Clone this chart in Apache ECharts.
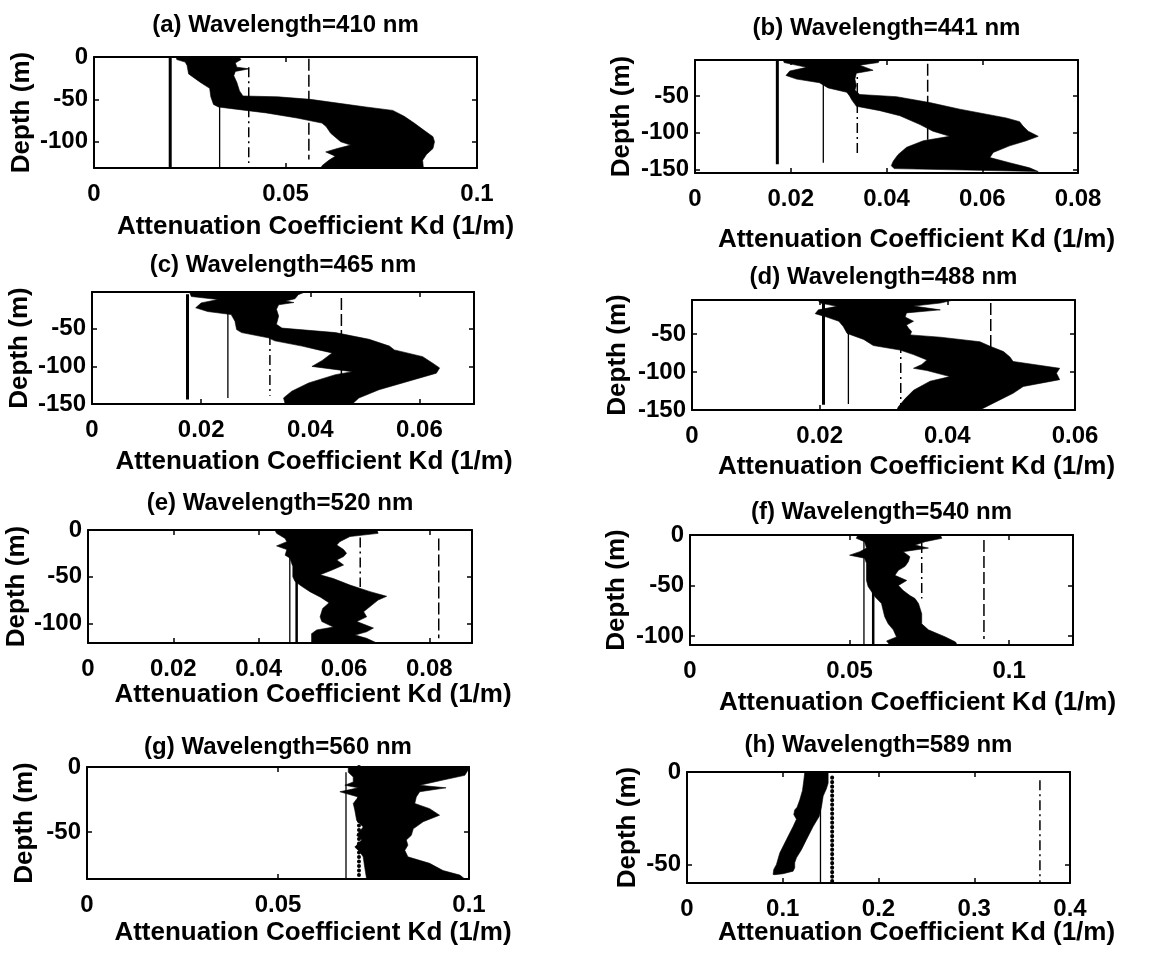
<!DOCTYPE html>
<html><head><meta charset="utf-8">
<script src="https://cdn.jsdelivr.net/npm/echarts@6/dist/echarts.min.js"></script>
<style>html,body{margin:0;padding:0;background:#fff}#c{width:1163px;height:957px}</style>
</head><body><div id="c"></div>
<script>
// ---------- data ----------
const panelLetters = ['a','b','c','d','e','f','g','h'];
const wavelengths = [410, 441, 465, 488, 520, 540, 560, 589];
const xMaxes = [0.1, 0.08, 0.07, 0.06, 0.09, 0.12, 0.1, 0.4];
const depthMins = [-131, -155, -150, -150, -121, -109, -86, -60];
const depthMaxes = [0, -1, -1, -5, 0, 0, 0, 0];
const xTickValues = [
  [0, 0.05, 0.1], [0, 0.02, 0.04, 0.06, 0.08], [0, 0.02, 0.04, 0.06], [0, 0.02, 0.04, 0.06],
  [0, 0.02, 0.04, 0.06, 0.08], [0, 0.05, 0.1], [0, 0.05, 0.1], [0, 0.1, 0.2, 0.3, 0.4]
];
const yTickValues = [
  [0, -50, -100], [-50, -100, -150], [-50, -100, -150], [-50, -100, -150],
  [0, -50, -100], [0, -50, -100], [0, -50], [0, -50]
];

// envelope edges: [depth (m), Kd (1/m)]
const minEdgeA = [[0,0.0215],[-3,0.0216],[-6,0.0238],[-10,0.0243],[-20,0.0247],[-30,0.0278],[-37,0.0302],[-47,0.0305],[-56,0.0312],[-59,0.0325],[-61,0.036],[-66,0.045],[-72,0.053],[-78,0.0595],[-82,0.0606],[-90,0.0618],[-100,0.0644],[-104,0.067],[-108,0.0635],[-112,0.0605],[-117,0.063],[-122,0.0613],[-128,0.0596],[-131,0.0592]];
const maxEdgeA = [[0,0.0378],[-3,0.0384],[-7,0.0369],[-12,0.0373],[-14,0.0405],[-17,0.0369],[-22,0.0365],[-30,0.0373],[-40,0.038],[-46,0.0389],[-47,0.048],[-50,0.0565],[-59,0.071],[-63,0.078],[-70,0.081],[-78,0.0836],[-86,0.086],[-94,0.0885],[-100,0.0889],[-108,0.0885],[-115,0.0868],[-122,0.0858],[-131,0.086]];

const minEdgeB = [[0,0.0184],[-4.5,0.0186],[-11,0.0233],[-16,0.0198],[-22,0.019],[-27,0.0212],[-32,0.026],[-39,0.0278],[-45,0.0317],[-50,0.0323],[-55,0.0327],[-64,0.0337],[-70,0.0386],[-77,0.0428],[-89,0.047],[-98,0.0497],[-105,0.0532],[-111,0.0477],[-120,0.0442],[-130,0.0424],[-139,0.0414],[-145,0.041],[-149,0.0416]];
const maxEdgeB = [[0,0.0386],[-4.5,0.0383],[-8,0.0344],[-15,0.0372],[-19,0.0337],[-27,0.0334],[-36,0.0337],[-42,0.0334],[-48,0.0344],[-51,0.0421],[-59,0.049],[-68,0.0553],[-80,0.065],[-85,0.0678],[-91,0.0685],[-98,0.0696],[-105,0.0717],[-111,0.0692],[-118,0.0657],[-127,0.0623],[-134,0.0616],[-141,0.0657],[-148,0.0699],[-153,0.0717]];

const minEdgeC = [[0,0.0178],[-7,0.0182],[-11,0.0231],[-15.5,0.02],[-22,0.019],[-27,0.0212],[-31,0.0255],[-40,0.0262],[-51,0.0265],[-55,0.0274],[-62,0.0323],[-66,0.0335],[-73,0.0385],[-78,0.0415],[-82,0.044],[-92,0.0422],[-100,0.0403],[-107,0.0477],[-111,0.0446],[-122,0.0397],[-133,0.0366],[-142,0.0351],[-150,0.0354]];
const maxEdgeC = [[0,0.0394],[-4.5,0.0378],[-10,0.0372],[-13,0.0355],[-15,0.037],[-18,0.0342],[-24,0.0338],[-33,0.0342],[-44,0.0338],[-49,0.0348],[-55,0.0446],[-64,0.0508],[-73,0.0545],[-78,0.0554],[-87,0.0606],[-96,0.0625],[-102,0.0637],[-109,0.0631],[-118,0.0588],[-131,0.0526],[-142,0.0489],[-150,0.0477]];

const minEdgeD = [[-4,0.0196],[-9,0.0201],[-13.4,0.0227],[-18,0.0198],[-23,0.0193],[-27.5,0.0211],[-33,0.023],[-40,0.0237],[-49,0.0243],[-57,0.0269],[-65,0.0284],[-71,0.0326],[-77,0.0347],[-84,0.0368],[-90,0.036],[-95,0.0347],[-98,0.0368],[-106,0.0404],[-112,0.0373],[-124,0.0347],[-135,0.0334],[-146,0.0323],[-150,0.0321]];
const maxEdgeD = [[-4,0.0415],[-9,0.0389],[-13,0.0347],[-18,0.0389],[-22,0.0336],[-27.5,0.0334],[-33,0.0347],[-38,0.0336],[-42,0.0339],[-46.5,0.0344],[-51,0.0342],[-54,0.0389],[-60,0.0451],[-66,0.0467],[-73,0.0488],[-80,0.0498],[-86,0.0503],[-95,0.0576],[-101.5,0.0571],[-110,0.0576],[-119,0.0519],[-128,0.0503],[-141,0.0472],[-150,0.0451]];

const minEdgeE = [[0,0.0438],[-3.6,0.0442],[-9,0.0462],[-12.5,0.0466],[-17,0.0442],[-21,0.0466],[-27,0.0462],[-30,0.0473],[-39,0.048],[-50,0.048],[-55,0.0485],[-60,0.05],[-66,0.052],[-72,0.0545],[-78,0.0565],[-84,0.055],[-93,0.0544],[-98,0.0548],[-104,0.0575],[-107,0.0536],[-111,0.0524],[-116,0.0524],[-121,0.0524]];
const maxEdgeE = [[0,0.0677],[-3.6,0.068],[-7,0.0614],[-12.5,0.059],[-16,0.0583],[-21,0.0599],[-25,0.0606],[-28.5,0.0599],[-32,0.0583],[-37.5,0.0599],[-43,0.0571],[-48,0.0544],[-52,0.0575],[-59,0.0614],[-66,0.0661],[-71,0.07],[-75,0.068],[-82,0.0661],[-87.5,0.0646],[-93,0.0653],[-98,0.063],[-105,0.0669],[-109,0.0653],[-112.5,0.0626],[-116,0.0653],[-121,0.0677]];

const minEdgeF = [[0,0.0526],[-3.3,0.0521],[-6.6,0.0547],[-13,0.0553],[-16.5,0.0532],[-20,0.05],[-23,0.0547],[-28,0.0553],[-38,0.0553],[-45,0.0553],[-51,0.0558],[-61,0.0579],[-68,0.06],[-74.5,0.0605],[-81,0.061],[-88,0.0621],[-94,0.0637],[-101,0.0647],[-105,0.0616],[-109,0.0626]];
const maxEdgeF = [[0,0.0784],[-3.3,0.0789],[-6.6,0.0737],[-10,0.0705],[-13,0.0747],[-16.5,0.0668],[-21.5,0.0689],[-26.5,0.0684],[-31,0.0674],[-35,0.0653],[-40,0.0642],[-45,0.0679],[-50,0.0653],[-55,0.0668],[-60,0.0689],[-63,0.0705],[-68,0.0716],[-78,0.0726],[-88,0.0726],[-94,0.0747],[-101,0.08],[-106,0.0832],[-109,0.0837]];

const minEdgeG = [[0,0.0684],[-4,0.0684],[-7.7,0.0697],[-11.5,0.0697],[-14,0.0675],[-16,0.071],[-19,0.0662],[-23,0.071],[-28,0.0697],[-33,0.0701],[-41,0.0706],[-46,0.0723],[-52.5,0.0706],[-56,0.0719],[-61.5,0.0701],[-65,0.0714],[-69,0.0723],[-77,0.0727],[-86,0.0732]];
const maxEdgeG = [[0,0.1],[-2.6,0.0997],[-6.4,0.0989],[-10,0.0932],[-14,0.0871],[-16,0.094],[-19,0.0871],[-23,0.0862],[-28,0.0858],[-32,0.0897],[-37,0.0923],[-42,0.088],[-47.5,0.0854],[-52.5,0.0849],[-56,0.0836],[-60,0.084],[-64,0.0832],[-69,0.084],[-74,0.0897],[-79.5,0.0932],[-83,0.0976],[-86,0.0989]];

const minEdgeH = [[0,0.123],[-4.5,0.122],[-10,0.1206],[-15,0.1178],[-19,0.115],[-20.5,0.1125],[-23,0.1115],[-25.5,0.1143],[-29.5,0.1108],[-36.6,0.1038],[-43.75,0.0969],[-50,0.0934],[-52.7,0.0906],[-55.4,0.0899]];
const maxEdgeH = [[0,0.1474],[-6,0.1474],[-9,0.1456],[-13,0.1422],[-19,0.1404],[-24,0.138],[-29.5,0.1317],[-36.6,0.1247],[-42,0.1195],[-46.4,0.1143],[-49,0.1125],[-51.8,0.1125],[-53.6,0.1108],[-55,0.1003],[-55.5,0.0916]];

// reference Kd lines per panel: value, top depth, bottom depth, kind
const refKdA = [0.0199, 0.0328, 0.0404, 0.0561];
const refTopA = [0, 0, -12, -2];
const refBotA = [-131, -131, -125, -121];
const refKindA = ['thick', 'thin', 'dashdot', 'dashed'];

const refKdB = [0.0172, 0.0268, 0.0339, 0.0486];
const refTopB = [-1, -1, -5, -6];
const refBotB = [-143, -141, -131, -130];
const refKindB = ['thick', 'thin', 'dashdot', 'dashed'];

const refKdC = [0.0175, 0.0249, 0.0326, 0.0457];
const refTopC = [-4, -4, -5, -9];
const refBotC = [-144, -142, -139, -140];
const refKindC = ['thick', 'thin', 'dashdot', 'dashed'];

const refKdD = [0.0206, 0.0245, 0.0327, 0.0468];
const refTopD = [-9, -9, -9, -9];
const refBotD = [-143, -142, -146, -140];
const refKindD = ['thick', 'thin', 'dashdot', 'dashed'];

const refKdE = [0.0473, 0.0489, 0.0638, 0.0822];
const refTopE = [0, 0, -8, -9];
const refBotE = [-121, -121, -61, -116];
const refKindE = ['thin', 'thick2', 'dashdot', 'dashed'];

const refKdF = [0.0545, 0.0574, 0.0726, 0.0921];
const refTopF = [0, 0, -8, -5];
const refBotF = [-109, -109, -63, -103];
const refKindF = ['thin', 'thick2', 'dashdot', 'dashed'];

const refKdG = [0.0678, 0.0712];
const refTopG = [-4, 0];
const refBotG = [-86, -86];
const refKindG = ['thin', 'dotted'];

const refKdH = [0.1394, 0.1516, 0.3686];
const refTopH = [0, -3, -4.5];
const refBotH = [-60, -60, -60];
const refKindH = ['thin', 'dotted', 'dashdot'];

const minEdges = [minEdgeA, minEdgeB, minEdgeC, minEdgeD, minEdgeE, minEdgeF, minEdgeG, minEdgeH];
const maxEdges = [maxEdgeA, maxEdgeB, maxEdgeC, maxEdgeD, maxEdgeE, maxEdgeF, maxEdgeG, maxEdgeH];
const refKds = [refKdA, refKdB, refKdC, refKdD, refKdE, refKdF, refKdG, refKdH];
const refTops = [refTopA, refTopB, refTopC, refTopD, refTopE, refTopF, refTopG, refTopH];
const refBots = [refBotA, refBotB, refBotC, refBotD, refBotE, refBotF, refBotG, refBotH];
const refKinds = [refKindA, refKindB, refKindC, refKindD, refKindE, refKindF, refKindG, refKindH];

// ---------- layout & style ----------
const FONT = "'Liberation Sans', Arial, Helvetica, sans-serif";
const gridRects = [
  [94, 57, 383, 111], [695, 60, 383, 113],
  [92, 292, 382, 112], [692, 300, 383, 110],
  [88, 530, 384, 113], [690, 535, 383, 110],
  [87, 767, 382, 112], [687, 772, 383, 111]
];
const titleGaps = [20, 20, 15, 11, 15, 11, 8, 15];
const xNameGaps = [46, 54, 45, 44, 39, 45, 41, 37];
const yNameGaps = [59, 60, 59, 61, 58, 60, 49, 46];
const xNameShifts = [30, 30, 31, 33, 33, 36, 35, 38];

const lineStyles = {
  thick:   {color: '#000', width: 3, type: 'solid'},
  thick2:  {color: '#000', width: 2.5, type: 'solid'},
  thin:    {color: '#000', width: 1.3, type: 'solid'},
  dashdot: {color: '#000', width: 1.5, type: [10, 4, 2, 4]},
  dashed:  {color: '#000', width: 1.5, type: [12, 4]},
  dotted:  {color: '#000', width: 4, type: [0.1, 4.4], cap: 'round'}
};
const fmt = v => String(Math.round(v * 1e6) / 1e6);

const grids = [], xAxes = [], yAxes = [], series = [];
const axisLineStyle = {color: '#000', width: 2};
const tickStyle = {color: '#000', width: 1.5};
const tickFont = {color: '#000', fontSize: 24, fontWeight: 'bold', fontFamily: FONT};
const nameFont = {color: '#000', fontSize: 26, fontWeight: 'bold', fontFamily: FONT};
const titleFont = {color: '#000', fontSize: 24, fontWeight: 'bold', fontFamily: FONT};

for (let i = 0; i < 8; i++) {
  const r = gridRects[i];
  grids.push({left: r[0], top: r[1], width: r[2], height: r[3], containLabel: false, outerBoundsMode: 'none', show: false});
  const common = {gridIndex: i, type: 'value', min: 0, max: xMaxes[i], splitLine: {show: false}, nameMoveOverlap: false};
  xAxes.push(Object.assign({}, common, {
    position: 'bottom',
    axisLine: {show: true, onZero: false, lineStyle: axisLineStyle},
    axisTick: {show: true, inside: true, length: 5, customValues: xTickValues[i], lineStyle: tickStyle},
    axisLabel: Object.assign({show: true, customValues: xTickValues[i], margin: 14, formatter: fmt, hideOverlap: false}, tickFont),
    name: 'Attenuation Coefficient Kd (1/m)', nameLocation: 'middle', nameGap: xNameGaps[i],
    nameTextStyle: Object.assign({padding: [0, 0, 0, 2 * xNameShifts[i]]}, nameFont)
  }));
  xAxes.push(Object.assign({}, common, {
    position: 'top',
    axisLine: {show: true, onZero: false, lineStyle: axisLineStyle},
    axisTick: {show: true, inside: true, length: 5, customValues: xTickValues[i], lineStyle: tickStyle},
    axisLabel: {show: false},
    name: '(' + panelLetters[i] + ') Wavelength=' + wavelengths[i] + ' nm', nameLocation: 'middle', nameGap: titleGaps[i],
    nameTextStyle: titleFont
  }));
  const ycommon = {gridIndex: i, type: 'value', min: depthMins[i], max: depthMaxes[i], splitLine: {show: false}, nameMoveOverlap: false};
  yAxes.push(Object.assign({}, ycommon, {
    position: 'left',
    axisLine: {show: true, onZero: false, lineStyle: axisLineStyle},
    axisTick: {show: true, inside: true, length: 5, customValues: yTickValues[i], lineStyle: tickStyle},
    axisLabel: Object.assign({show: true, customValues: yTickValues[i], margin: 6, formatter: fmt, hideOverlap: false}, tickFont),
    name: 'Depth (m)', nameLocation: 'middle', nameGap: yNameGaps[i],
    nameTextStyle: nameFont
  }));
  yAxes.push(Object.assign({}, ycommon, {
    position: 'right',
    axisLine: {show: true, onZero: false, lineStyle: axisLineStyle},
    axisTick: {show: true, inside: true, length: 5, customValues: yTickValues[i], lineStyle: tickStyle},
    axisLabel: {show: false}
  }));

  // envelope polygon
  const pts = minEdges[i].concat(maxEdges[i].slice().reverse()).map(p => [p[1], p[0]]);
  series.push({
    type: 'custom', xAxisIndex: 2 * i, yAxisIndex: 2 * i, clip: true, silent: true, animation: false, z: 2,
    data: pts,
    renderItem: (params, api) => {
      if (params.dataIndex !== 0) return null;
      return {type: 'polygon', shape: {points: pts.map(p => api.coord(p))},
              style: {fill: '#000', stroke: '#000', lineWidth: 0.6}};
    }
  });
  // reference lines
  refKds[i].forEach((kd, k) => {
    series.push({
      type: 'line', xAxisIndex: 2 * i, yAxisIndex: 2 * i, silent: true, animation: false, z: 3,
      symbol: 'none', data: [[kd, refTops[i][k]], [kd, refBots[i][k]]],
      lineStyle: lineStyles[refKinds[i][k]]
    });
  });
}

const chart = echarts.init(document.getElementById('c'), null, {renderer: 'canvas'});
chart.setOption({
  backgroundColor: '#fff', animation: false,
  grid: grids, xAxis: xAxes, yAxis: yAxes, series: series
});
</script></body></html>
